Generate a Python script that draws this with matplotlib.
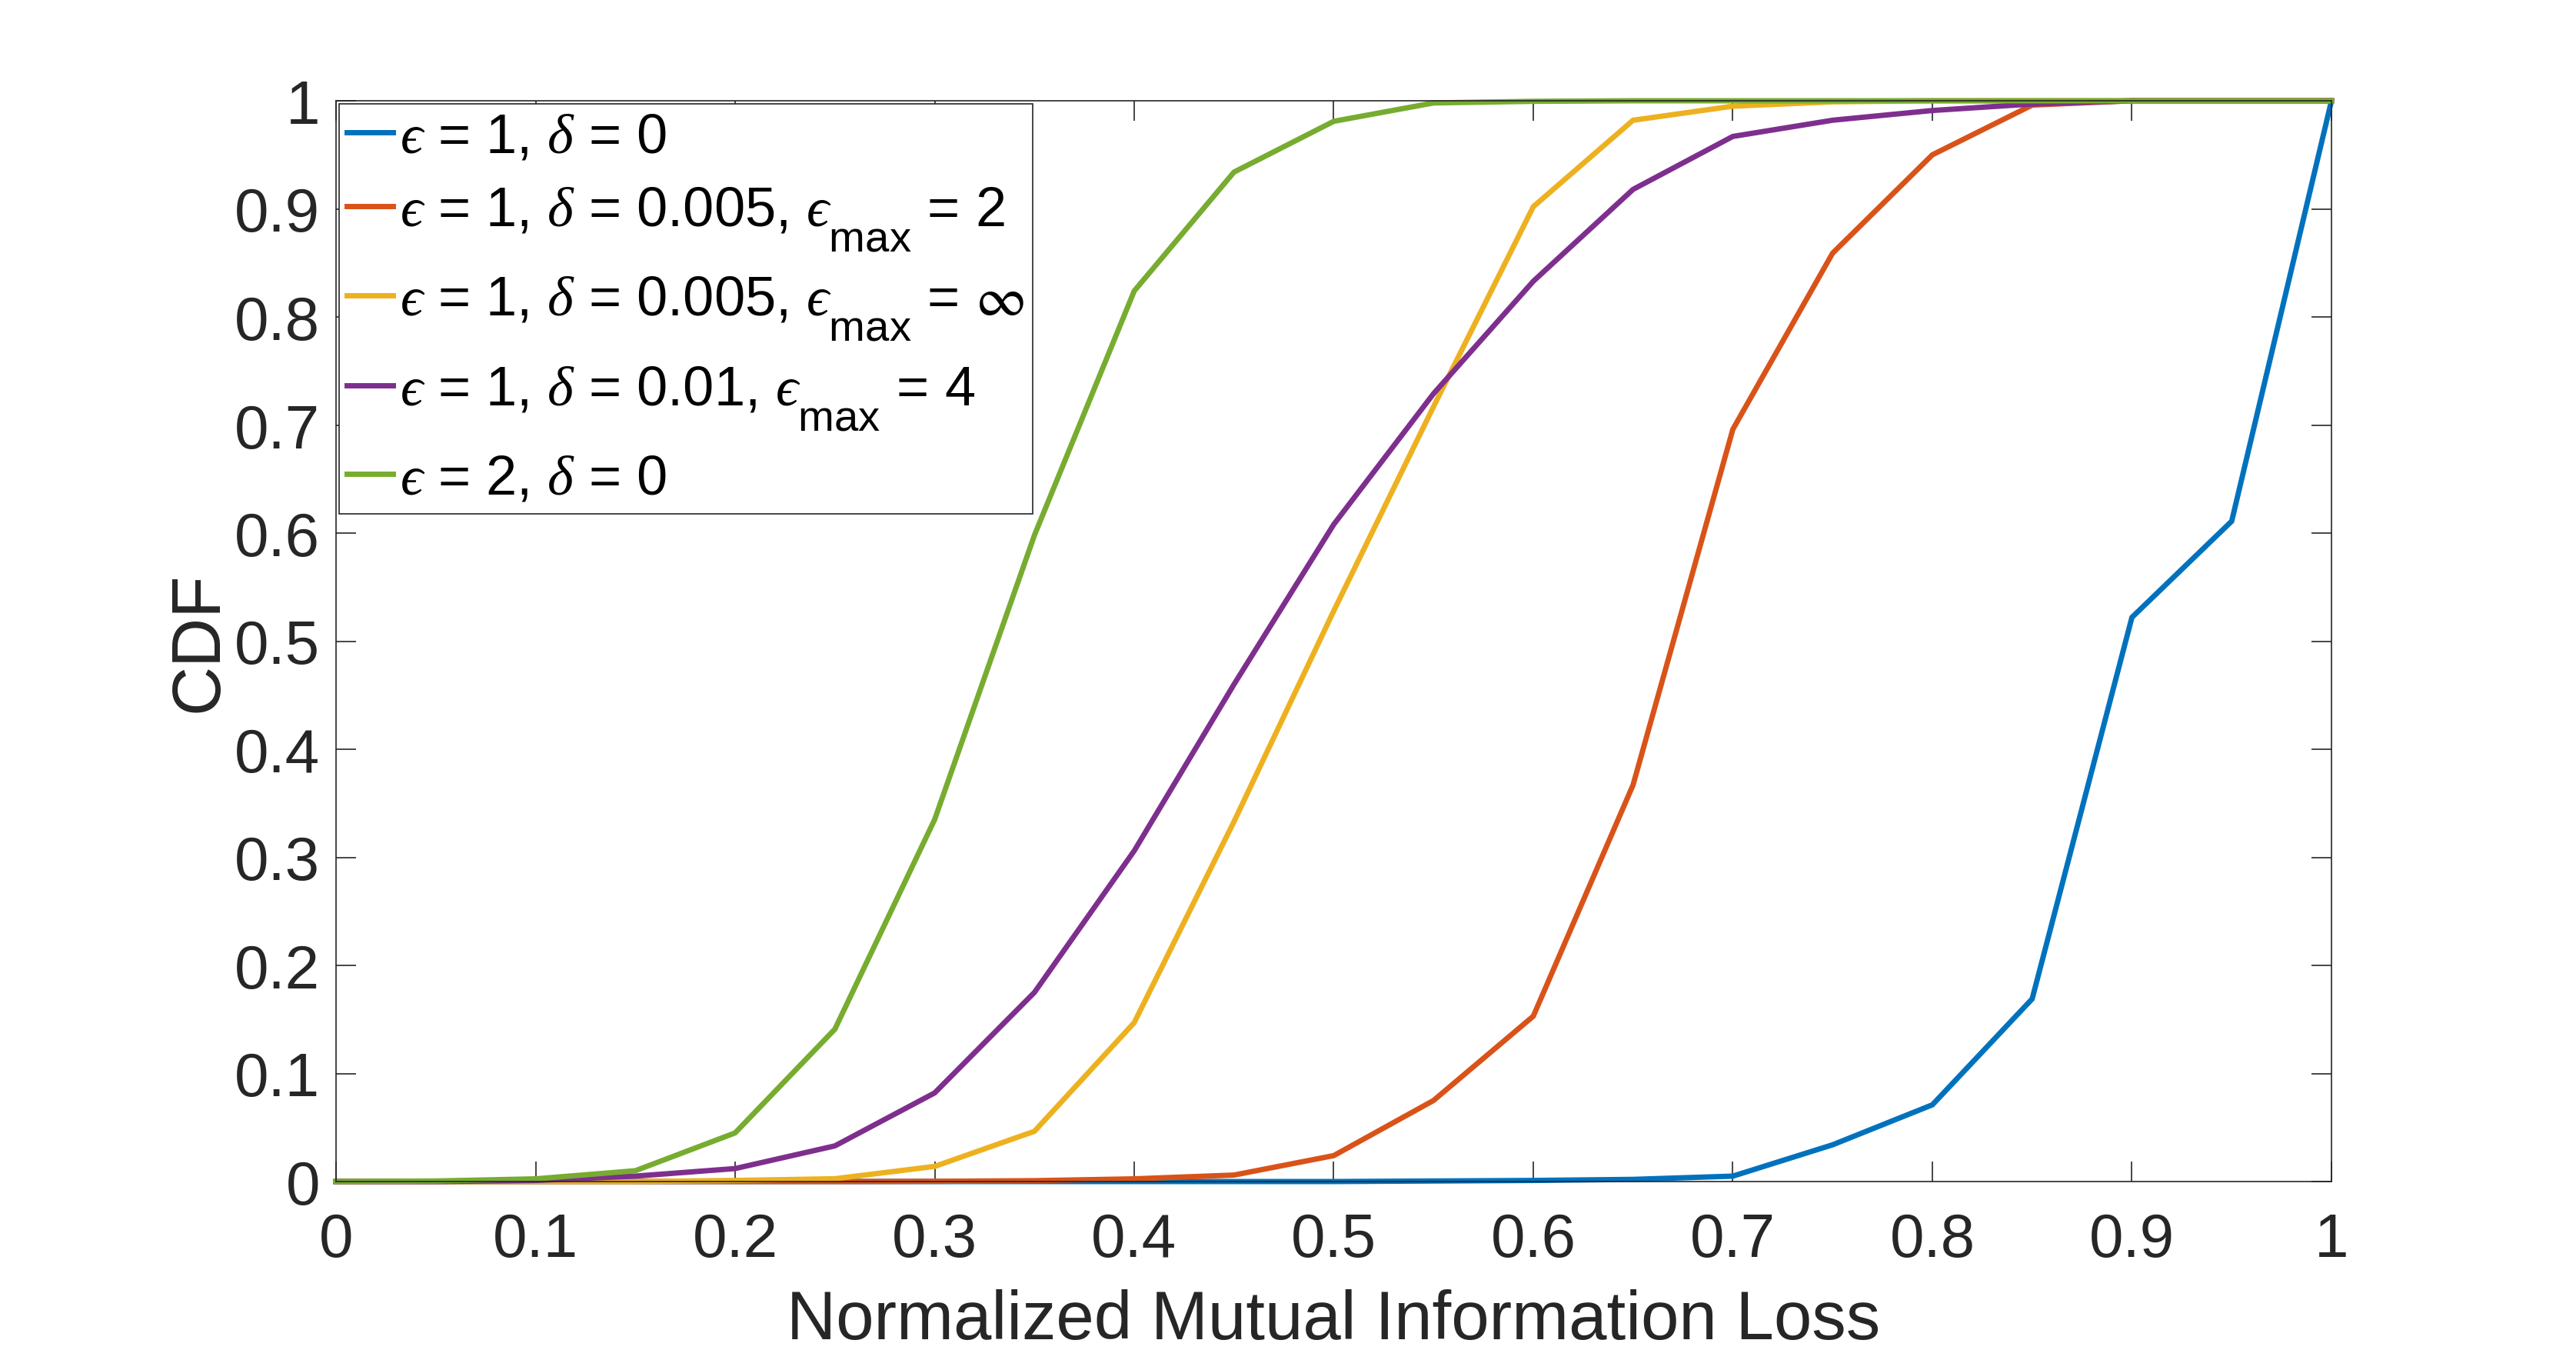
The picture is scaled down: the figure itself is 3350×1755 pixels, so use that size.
import matplotlib
matplotlib.use("Agg")
import matplotlib.pyplot as plt
import matplotlib._mathtext as mt
from matplotlib.ticker import FuncFormatter

# ---- data ----
x_vals = [0.00, 0.05, 0.10, 0.15, 0.20, 0.25, 0.30, 0.35, 0.40, 0.45, 0.50,
          0.55, 0.60, 0.65, 0.70, 0.75, 0.80, 0.85, 0.90, 0.95, 1.00]
cdf_eps1_d0 = [0, 0, 0, 0, 0, 0, 0, 0, 0, 0, 0,
               0.0005, 0.001, 0.002, 0.005, 0.034, 0.071, 0.169, 0.522, 0.611, 1.0]
cdf_eps1_d005_max2 = [0, 0, 0, 0, 0, 0, 0.0002, 0.0008, 0.0025, 0.006, 0.024,
                      0.075, 0.153, 0.367, 0.696, 0.859, 0.950, 0.996, 1, 1, 1]
cdf_eps1_d005_maxinf = [0, 0, 0, 0, 0.001, 0.0026, 0.014, 0.0465, 0.147, 0.333, 0.528,
                        0.717, 0.902, 0.982, 0.995, 0.999, 1, 1, 1, 1, 1]
cdf_eps1_d01_max4 = [0, 0, 0.001, 0.005, 0.012, 0.033, 0.082, 0.175, 0.306, 0.46, 0.608,
                     0.729, 0.833, 0.918, 0.967, 0.982, 0.991, 0.997, 1, 1, 1]
cdf_eps2_d0 = [0, 0.0005, 0.0025, 0.010, 0.045, 0.141, 0.335, 0.598, 0.824, 0.934, 0.981,
               0.998, 0.9995, 1, 1, 1, 1, 1, 1, 1, 1]

series = [cdf_eps1_d0, cdf_eps1_d005_max2, cdf_eps1_d005_maxinf, cdf_eps1_d01_max4, cdf_eps2_d0]
labels = [r'$ϵ$ = 1, $\delta$ = 0',
          r'$ϵ$ = 1, $\delta$ = 0.005, $ϵ_{\mathrm{max}}$ = 2',
          r'$ϵ$ = 1, $\delta$ = 0.005, $ϵ_{\mathrm{max}}$ = $\mathsf{\infty}$',
          r'$ϵ$ = 1, $\delta$ = 0.01, $ϵ_{\mathrm{max}}$ = 4',
          r'$ϵ$ = 2, $\delta$ = 0']
colors = ['#0072BD', '#D95319', '#EDB120', '#7E2F8E', '#77AC30']
xticks = [0, 0.1, 0.2, 0.3, 0.4, 0.5, 0.6, 0.7, 0.8, 0.9, 1]
yticks = [0, 0.1, 0.2, 0.3, 0.4, 0.5, 0.6, 0.7, 0.8, 0.9, 1]

# ---- style ----
plt.rcParams['font.family'] = ['Liberation Sans', 'DejaVu Sans']
plt.rcParams['mathtext.fontset'] = 'custom'
plt.rcParams['mathtext.rm'] = 'Liberation Sans'
plt.rcParams['mathtext.it'] = 'Liberation Serif:italic'
plt.rcParams['mathtext.bf'] = 'Liberation Sans:bold'
plt.rcParams['mathtext.sf'] = 'STIXGeneral'
plt.rcParams['mathtext.fallback'] = 'stix'
# MATLAB-like subscripts: a bit larger and lower
mt.SHRINK_FACTOR = 0.78
mt.FontConstantsBase.sub1 = 1.0

axc = '#262626'
W, H = 3350, 1756
dpi = 200
fig = plt.figure(figsize=(W / dpi, H / dpi), dpi=dpi, facecolor='white')
L, R, T, B = 437, 3032, 132, 1537
ax = fig.add_axes([L / W, 1 - B / H, (R - L) / W, (B - T) / H])

for ys, c, lab in zip(series, colors, labels):
    ax.plot(x_vals, ys, color=c, lw=2.5, label=lab, clip_on=False,
            solid_joinstyle='miter')

ax.set_xlim(0, 1)
ax.set_ylim(0, 1)
ax.set_xticks(xticks)
ax.set_yticks(yticks)
fmt = FuncFormatter(lambda v, p: ('%g' % round(v, 3)))
ax.xaxis.set_major_formatter(fmt)
ax.yaxis.set_major_formatter(fmt)

for s in ax.spines.values():
    s.set_color(axc)
    s.set_linewidth(0.6)
ax.tick_params(direction='in', length=9.4, width=0.6, color=axc,
               labelcolor=axc, labelsize=28.8, top=True, right=True)
ax.tick_params(axis='x', pad=14.2)
ax.tick_params(axis='y', pad=7.6)

ax.set_xlabel('Normalized Mutual Information Loss', fontsize=32, color=axc, labelpad=9)
ax.set_ylabel('CDF', fontsize=32, color=axc, labelpad=1)

leg = ax.legend(loc='upper left', bbox_to_anchor=(0, 1), fontsize=26,
                borderaxespad=0.05, borderpad=0.15, handlelength=0.83,
                handletextpad=0.12, labelspacing=0.39, fancybox=False,
                framealpha=1, edgecolor=axc)
leg.get_frame().set_linewidth(0.6)
for t in leg.get_texts():
    t.set_color('black')

fig.savefig('out.png', dpi=dpi, facecolor='white')
